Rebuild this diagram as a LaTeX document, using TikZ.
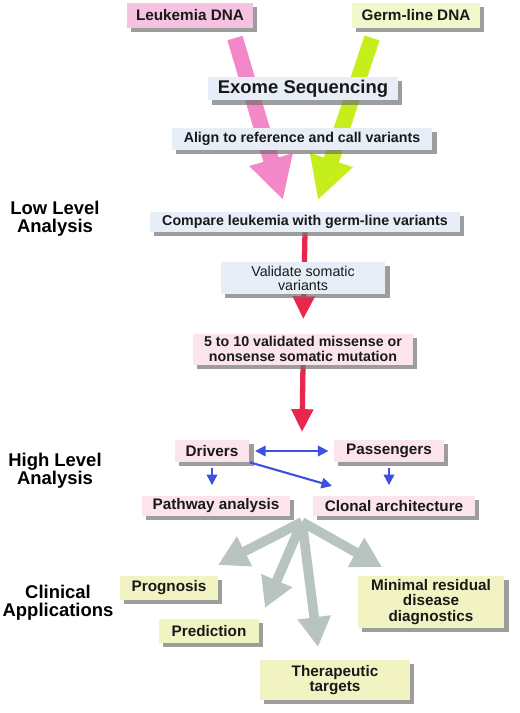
\documentclass[tikz,border=0pt]{standalone}
\usepackage{fontspec}
\setmainfont{Liberation Sans}
\usetikzlibrary{arrows.meta,shadows,calc}

\definecolor{leukpink}{HTML}{F6C2E2}
\definecolor{germgreen}{HTML}{F1F7CA}
\definecolor{seqblue}{HTML}{E7EEF8}
\definecolor{mutpink}{HTML}{FBE4EC}
\definecolor{clinyellow}{HTML}{F1F4C2}
\definecolor{arrowpink}{HTML}{F288C8}
\definecolor{arrowgreen}{HTML}{C5EE1C}
\definecolor{arrowred}{HTML}{E8274E}
\definecolor{arrowblue}{HTML}{3D50E0}
\definecolor{arrowgray}{HTML}{B7C4C0}

\pgfdeclarelayer{bg}
\pgfsetlayers{bg,main}

\tikzset{
  box/.style={inner sep=1pt, align=center, text=black!90,
    font=\fontsize{8.7}{9}\selectfont\bfseries,
    drop shadow={shadow xshift=2.5pt, shadow yshift=-2.5pt, fill=black!55, opacity=0.7}},
  smalltext/.style={font=\fontsize{8.1}{8.2}\selectfont\bfseries},
  sidelabel/.style={align=center, font=\fontsize{10.5}{10}\selectfont\bfseries},
  bigarrow/.style={line width=9pt, -{Triangle[width=24pt,length=24pt]}},
  redarrow/.style={arrowred, line width=3pt, -{Triangle[width=12pt,length=13pt]}},
  bluearrow/.style={arrowblue, line width=1.2pt, -{Triangle[width=6pt,length=6pt]}},
  grayarrow/.style={arrowgray, line width=5.5pt, -{Triangle[width=18pt,length=17pt]}}
}

\begin{document}
\begin{tikzpicture}[x=0.02cm,y=-0.02cm]
  \useasboundingbox (0,0) rectangle (520,713);

  % sequencing
  \node[box,fill=leukpink,minimum width=2.52cm,minimum height=0.5cm] (leuk) at (190,15.5) {Leukemia DNA};
  \node[box,fill=germgreen,minimum width=2.56cm,minimum height=0.5cm] (germ) at (416,15.5) {Germ-line DNA};
  \node[box,fill=seqblue,minimum width=3.8cm,minimum height=0.48cm,font=\fontsize{10.5}{12}\selectfont\bfseries] (exome) at (303,88.5) {Exome Sequencing};
  \node[box,smalltext,fill=seqblue,minimum width=5.22cm,minimum height=0.44cm] (align) at (302,139) {Align to reference and call variants};

  % low level
  \node[sidelabel] (low) at (55,219) {Low Level\\Analysis};
  \node[box,smalltext,fill=seqblue,minimum width=6.2cm,minimum height=0.4cm] (compare) at (305,222) {Compare leukemia with germ-line variants};
  \node[box,fill=seqblue,minimum width=3.3cm,minimum height=0.64cm,font=\fontsize{8.1}{8}\selectfont] (validate) at (303,278) {Validate somatic\\variants};
  \node[box,smalltext,fill=mutpink,minimum width=4.4cm,minimum height=0.62cm] (mut) at (303,349) {5 to 10 validated missense or\\nonsense somatic mutation};

  % high level
  \node[sidelabel] (high) at (55,471) {High Level\\Analysis};
  \node[box,fill=mutpink,minimum width=1.5cm,minimum height=0.44cm] (drivers) at (212,451) {Drivers};
  \node[box,fill=mutpink,minimum width=2.2cm,minimum height=0.44cm] (pass) at (389,451) {Passengers};
  \node[box,fill=mutpink,minimum width=2.96cm,minimum height=0.4cm] (pathway) at (216,506) {Pathway analysis};
  \node[box,fill=mutpink,minimum width=3.24cm,minimum height=0.4cm] (clonal) at (394,506) {Clonal architecture};

  % clinical
  \node[sidelabel] (clin) at (58,603) {Clinical\\Applications};
  \node[box,fill=clinyellow,minimum width=1.96cm,minimum height=0.48cm] (prog) at (169,588) {Prognosis};
  \node[box,fill=clinyellow,minimum width=2cm,minimum height=0.48cm] (pred) at (209,631) {Prediction};
  \node[box,fill=clinyellow,minimum width=3cm,minimum height=0.8cm] (ther) at (335,680) {Therapeutic\\targets};
  \node[box,fill=clinyellow,minimum width=2.94cm,minimum height=1.04cm] (mrd) at (431,602) {Minimal residual\\disease\\diagnostics};

  \coordinate (pinkstart) at (235,38);
  \coordinate (pinktip) at (283,200);
  \coordinate (greenstart) at (372,38);
  \coordinate (greentip) at (318,200);
  \coordinate (redtip) at (302,432);
  \coordinate (cltip) at (332,486);
  \coordinate (hub) at (302,522);
  \coordinate (progtip) at (218,565);
  \coordinate (predtip) at (265,608);
  \coordinate (thertip) at (318,647);
  \coordinate (mrdtip) at (382,567);

  \begin{pgfonlayer}{bg}
    \draw[bigarrow,arrowpink] (pinkstart) -- (pinktip);
    \draw[bigarrow,arrowgreen] (greenstart) -- (greentip);
    \draw[redarrow,shorten >=8pt] (compare.south) -- (mut.north);
    \draw[redarrow] (mut.south) -- (redtip);
    \foreach \t in {progtip,predtip,thertip,mrdtip}
      \draw[grayarrow] (hub) -- (\t);
  \end{pgfonlayer}

  \draw[bluearrow,{Triangle[width=6pt,length=6pt]}-{Triangle[width=6pt,length=6pt]},shorten <=3pt,shorten >=3pt] (drivers.east) -- (pass.west);
  \draw[bluearrow] (drivers.south east) -- (cltip);
  \draw[bluearrow,shorten <=3pt,shorten >=6pt] (drivers.south) -- (drivers.south |- pathway.north);
  \draw[bluearrow,shorten <=3pt,shorten >=6pt] (pass.south) -- (pass.south |- clonal.north);
\end{tikzpicture}
\end{document}
